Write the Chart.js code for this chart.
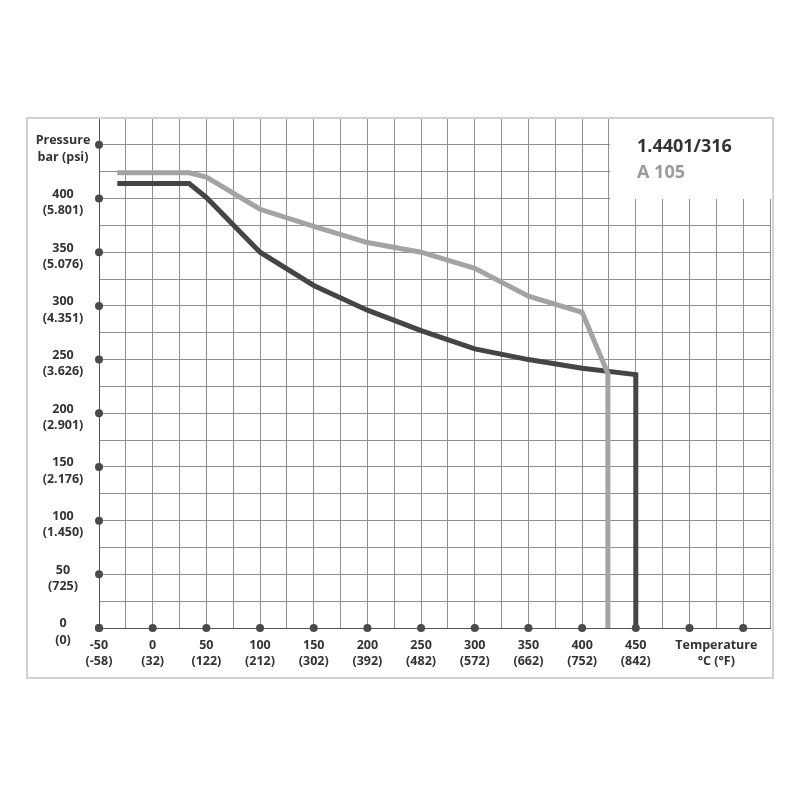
<!DOCTYPE html>
<html>
<head>
<meta charset="utf-8">
<script src="https://cdn.jsdelivr.net/npm/chart.js@4/dist/chart.umd.min.js"></script>
<style>
  html, body { margin: 0; padding: 0; background: #fff; }
  #wrap { width: 800px; height: 800px; }
</style>
</head>
<body>
<div id="wrap"><canvas id="c" width="800" height="800"></canvas></div>
<script>
// ---- Data ----
const seriesNames = ['1.4401/316', 'A 105'];

const steelTemps     = [-33, 34, 50, 100, 150, 200, 250, 300, 350, 400, 450, 450];
const steelPressures = [414, 414, 401, 350, 319, 296, 277, 260, 250, 242, 236, 0];

const a105Temps      = [-33, 34, 50, 100, 150, 200, 250, 300, 350, 400, 424, 424];
const a105Pressures  = [424, 424, 420, 390, 374, 359, 350, 335, 309, 294, 237, 0];

const pressureTicks = [0, 50, 100, 150, 200, 250, 300, 350, 400];
const psiLabels     = ['(0)', '(725)', '(1.450)', '(2.176)', '(2.901)', '(3.626)', '(4.351)', '(5.076)', '(5.801)'];
const yAxisTitle    = ['Pressure', 'bar (psi)'];
const yTitleAt      = 450;

const tempTicks        = [-50, 0, 50, 100, 150, 200, 250, 300, 350, 400, 450];
const fahrenheitLabels = ['(-58)', '(32)', '(122)', '(212)', '(302)', '(392)', '(482)', '(572)', '(662)', '(752)', '(842)'];
const xAxisTitle       = ['Temperature', '°C (°F)'];
const xTitleAt         = 525;

const yDotTicks = [0, 50, 100, 150, 200, 250, 300, 350, 400, 450];
const xDotTicks = [-50, 0, 50, 100, 150, 200, 250, 300, 350, 400, 450, 500, 550];

// ---- Styling ----
const FONT = '"Open Sans"';
const labelFont = { family: FONT, size: 12.5, weight: 'bold', lineHeight: 1.3 };
const gridColor = '#8f8f8f';
const axisColor = '#555555';
const darkColor = '#454545';
const lightColor = '#a3a3a3';

const toPoints = (xs, ys) => xs.map((x, i) => ({ x: x, y: ys[i] }));

// measure widest y label to centre labels at a fixed column
const mctx = document.createElement('canvas').getContext('2d');
mctx.font = 'bold 12.5px ' + FONT;
let widest = 0;
pressureTicks.forEach((p, i) => {
  widest = Math.max(widest, mctx.measureText(String(p)).width, mctx.measureText(psiLabels[i]).width);
});
yAxisTitle.forEach(t => { widest = Math.max(widest, mctx.measureText(t).width); });
const yPad = Math.max(0, 36 - widest / 2);

const decor = {
  id: 'decor',
  beforeDatasetsDraw(chart) {
    const { ctx, scales: { x, y }, chartArea } = chart;
    // white legend panel hiding the grid in the top-right corner
    const x0 = Math.round(x.getPixelForValue(425)) + 1;
    const y1 = Math.round(y.getPixelForValue(400));
    ctx.save();
    ctx.fillStyle = '#ffffff';
    ctx.fillRect(x0, chartArea.top - 1, chartArea.right + 3 - x0, y1 - chartArea.top + 1);
    // legend text
    ctx.textBaseline = 'middle';
    ctx.textAlign = 'left';
    ctx.font = 'bold 18px ' + FONT;
    ctx.fillStyle = '#333333';
    ctx.fillText(seriesNames[0], 637, 147);
    ctx.fillStyle = '#9a9a9a';
    ctx.fillText(seriesNames[1], 637, 173);
    ctx.restore();
  },
  afterDraw(chart) {
    const { ctx, scales: { x, y } } = chart;
    ctx.save();
    // outer frame
    ctx.strokeStyle = '#d2d2d2';
    ctx.lineWidth = 2;
    ctx.strokeRect(27, 118, 746, 560);
    // axis dots
    ctx.fillStyle = '#4a4a4a';
    const x0 = x.getPixelForValue(-50);
    yDotTicks.forEach(v => {
      ctx.beginPath();
      ctx.arc(x0, y.getPixelForValue(v), 4, 0, Math.PI * 2);
      ctx.fill();
    });
    const y0 = y.getPixelForValue(0);
    xDotTicks.forEach(v => {
      ctx.beginPath();
      ctx.arc(x.getPixelForValue(v), y0, 4, 0, Math.PI * 2);
      ctx.fill();
    });
    ctx.restore();
  }
};

new Chart(document.getElementById('c'), {
  type: 'scatter',
  data: {
    datasets: [
      {
        label: seriesNames[1],
        data: toPoints(a105Temps, a105Pressures),
        showLine: true,
        borderColor: lightColor,
        backgroundColor: lightColor,
        borderWidth: 5,
        pointRadius: 0,
        tension: 0,
        borderJoinStyle: 'miter',
        borderCapStyle: 'butt'
      },
      {
        label: seriesNames[0],
        data: toPoints(steelTemps, steelPressures),
        showLine: true,
        borderColor: darkColor,
        backgroundColor: darkColor,
        borderWidth: 5,
        pointRadius: 0,
        tension: 0,
        borderJoinStyle: 'miter',
        borderCapStyle: 'butt'
      }
    ]
  },
  options: {
    responsive: false,
    animation: false,
    devicePixelRatio: 1,
    layout: { padding: { left: 27, top: 118, right: 30, bottom: 122 } },
    plugins: { legend: { display: false }, tooltip: { enabled: false } },
    scales: {
      x: {
        type: 'linear',
        min: -50,
        max: 575,
        afterFit: s => { s.height = 50; },
        grid: { color: gridColor, lineWidth: 1, drawTicks: false },
        border: { display: true, color: axisColor, width: 1 },
        ticks: {
          stepSize: 25,
          autoSkip: false,
          maxRotation: 0,
          minRotation: 0,
          padding: 9,
          color: '#333333',
          font: labelFont,
          callback: (v) => {
            if (v === xTitleAt) return xAxisTitle;
            const i = tempTicks.indexOf(v);
            return i >= 0 ? [String(v), fahrenheitLabels[i]] : '';
          }
        }
      },
      y: {
        type: 'linear',
        min: 0,
        max: 475,
        afterFit: s => { s.width = 72; },
        grid: { color: gridColor, lineWidth: 1, drawTicks: false },
        border: { display: true, color: axisColor, width: 1 },
        ticks: {
          stepSize: 25,
          autoSkip: false,
          crossAlign: 'center',
          padding: yPad,
          labelOffset: 4,
          color: '#333333',
          font: labelFont,
          callback: (v) => {
            if (v === yTitleAt) return yAxisTitle;
            const i = pressureTicks.indexOf(v);
            return i >= 0 ? [String(v), psiLabels[i]] : '';
          }
        }
      }
    }
  },
  plugins: [decor]
});
</script>
</body>
</html>
